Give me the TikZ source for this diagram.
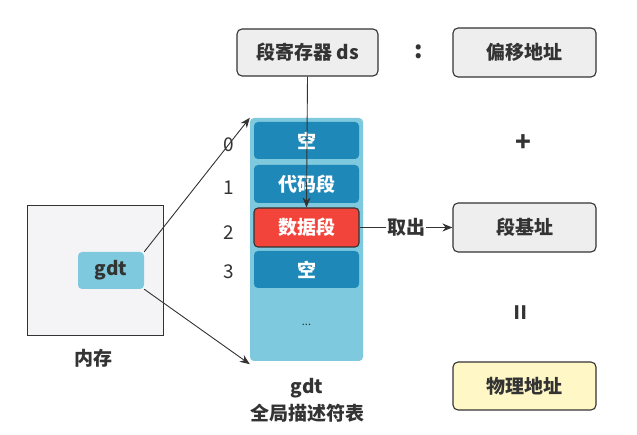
\documentclass[tikz,border=0pt]{standalone}
\usepackage{fontspec}
\setmainfont{Noto Sans CJK SC}
\usetikzlibrary{arrows.meta}
\definecolor{txt}{HTML}{333333}
\definecolor{boxgray}{HTML}{EEEEEE}
\definecolor{boxyel}{HTML}{FFF8C6}
\definecolor{memgray}{HTML}{F4F4F6}
\definecolor{cellblue}{HTML}{1E89B8}
\definecolor{outerblue}{HTML}{7EC9DD}
\definecolor{cellred}{HTML}{F2443A}
\tikzset{
  x=1pt, y=-1pt,
  graybox/.style={draw=txt, line width=1.1pt, rounded corners=5pt, fill=boxgray, text=txt, font=\fontsize{19}{21}\selectfont\bfseries, inner sep=0pt},
  cell/.style={fill=cellblue, rounded corners=4pt, text=white, minimum width=105pt, inner sep=0pt, font=\fontsize{19}{21}\selectfont\bfseries},
  idx/.style={text=txt, font=\fontsize{19}{21}\selectfont},
  lbl/.style={text=txt, font=\fontsize{19}{21}\selectfont\bfseries},
  arr/.style={draw=txt, line width=0.9pt, -{Stealth[length=10pt,width=8pt]}},
}
\begin{document}
\begin{tikzpicture}
\useasboundingbox (0,0) rectangle (637,435);
\fill[white] (0,0) rectangle (637,435);
% right column
\node[graybox, minimum width=141pt, minimum height=47pt] (ds) at (307.5,52.5) {段寄存器 ds};
\node[graybox, minimum width=143pt, minimum height=49pt] (off) at (524.5,52.5) {偏移地址};
\node[graybox, minimum width=143pt, minimum height=49pt] (base) at (524.5,227.5) {段基址};
\node[graybox, fill=boxyel, minimum width=143pt, minimum height=48pt] (phys) at (524.5,386) {物理地址};
\node[text=txt, font=\fontsize{24}{26}\selectfont\bfseries] (colon) at (419,52) {:};
\node[text=txt, font=\fontsize{26}{28}\selectfont\bfseries] (plus) at (523,143) {+};
\node[text=txt, rotate=90, font=\fontsize{26}{28}\selectfont\bfseries] (eq) at (523,313) {=};
% gdt table
\node[fill=outerblue, rounded corners=4pt, minimum width=113pt, minimum height=243pt, inner sep=0pt] (outer) at (306.5,239.5) {};
\node[cell, minimum height=37pt] (c0) at (306.5,140.5) {空};
\node[cell, minimum height=38pt] (c1) at (306.5,184) {代码段};
\node[cell, fill=cellred, draw=txt, line width=1.1pt, minimum height=39pt] (c2) at (306.5,227.5) {数据段};
\node[cell, minimum height=37pt] (c3) at (306.5,269.5) {空};
\node[text=txt, font=\fontsize{11}{13}\selectfont] (dots) at (306.5,325) {...};
\node[idx] (i0) at (229,145) {0};
\node[idx] (i1) at (229,188) {1};
\node[idx] (i2) at (229,233) {2};
\node[idx] (i3) at (229,272) {3};
\node[lbl] (gl) at (307,388) {gdt};
\node[lbl] (gl2) at (307,413) {全局描述符表};
% memory
\node[draw=txt, line width=1pt, fill=memgray, minimum width=136pt, minimum height=130pt, inner sep=0pt] (mem) at (95,271) {};
\node[fill=outerblue, rounded corners=4pt, minimum width=66pt, minimum height=37pt, inner sep=0pt, text=txt, font=\fontsize{19}{21}\selectfont\bfseries] (g) at (111,270.5) {gdt};
\node[lbl] (meml) at (93,358) {内存};
% connectors
\draw[arr] (g.north east) -- (outer.north west);
\draw[arr] (g.south east) -- ([yshift=-3pt]outer.south west);
\draw[arr] (ds.south) -- (c2.north);
\draw[arr] (c2.east) -- node[fill=white, inner sep=1pt, lbl] {取出} (base.west);
\end{tikzpicture}
\end{document}
